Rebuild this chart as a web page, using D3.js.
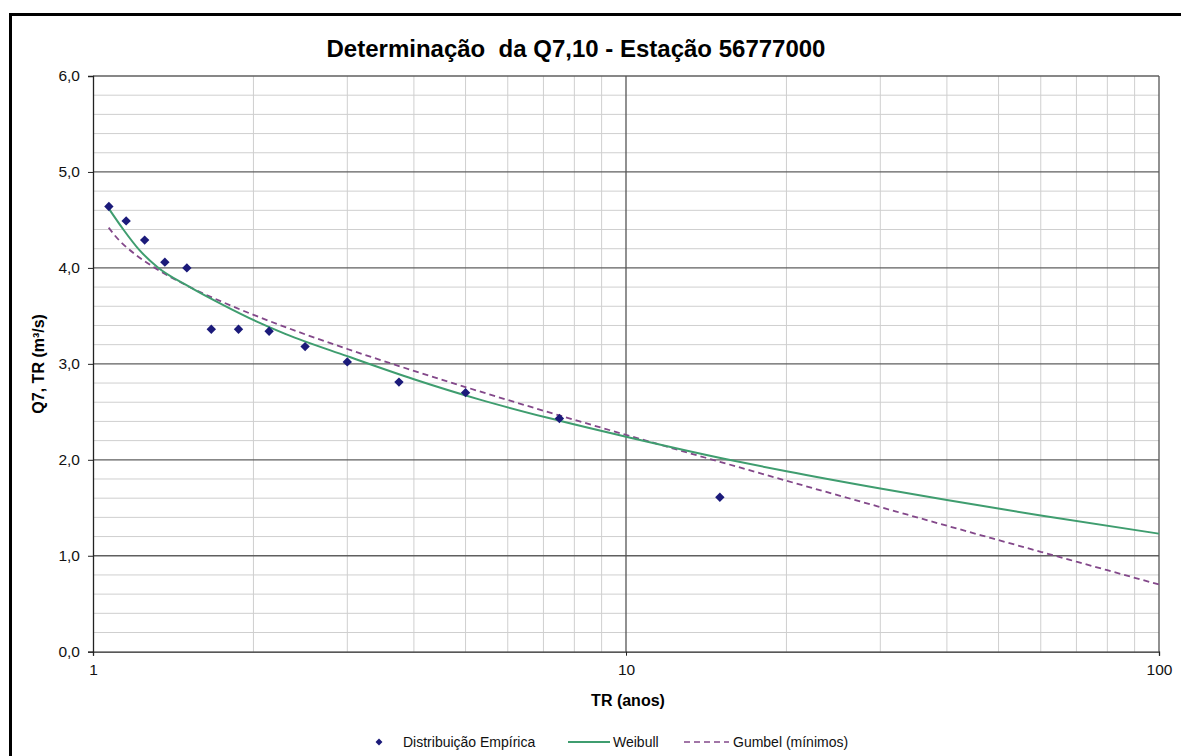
<!DOCTYPE html>
<html>
<head>
<meta charset="utf-8">
<script src="https://cdn.jsdelivr.net/npm/d3@7"></script>
<style>
  html, body { margin: 0; padding: 0; background: #fff; }
  svg { display: block; font-family: Arial, "Liberation Sans", sans-serif; }
</style>
</head>
<body>
<svg id="chart" width="1181" height="756"></svg>
<script>
// Empirical distribution: return period (years) and Q7 (m³/s)
const empiricalTR = [15, 7.5, 5, 3.75, 3, 2.5, 2.14, 1.875, 1.667, 1.5, 1.364, 1.25, 1.154, 1.071];
const empiricalQ  = [1.61, 2.43, 2.70, 2.81, 3.02, 3.18, 3.34, 3.36, 3.36, 4.00, 4.06, 4.29, 4.49, 4.64];

// Weibull fitted curve
const weibullTR = [1.07, 1.14, 1.22, 1.32, 1.52, 1.76, 2.03, 2.3, 3.0, 4.0, 5.3, 7.1, 10, 15.6, 20, 30, 40, 60, 100];
const weibullQ  = [4.62, 4.40, 4.19, 4.01, 3.80, 3.61, 3.44, 3.31, 3.08, 2.84, 2.63, 2.44, 2.24, 2.00, 1.88, 1.70, 1.58, 1.42, 1.23];

// Gumbel (minima) fitted curve
const gumbelTR = [1.07, 1.1, 1.2, 1.3, 1.5, 1.75, 2, 2.5, 3, 4, 5, 7, 10, 15, 20, 30, 40, 50, 60, 70, 80, 100];
const gumbelQ  = [4.42, 4.335, 4.141, 4.008, 3.816, 3.644, 3.511, 3.308, 3.155, 2.927, 2.758, 2.512, 2.260, 1.979, 1.782, 1.507, 1.313, 1.163, 1.041, 0.938, 0.849, 0.700];

// Axis ticks
const yTicks = [0, 1, 2, 3, 4, 5, 6];
const xTicks = [1, 10, 100];
const xMinor = [2, 3, 4, 5, 6, 7, 8, 9, 20, 30, 40, 50, 60, 70, 80, 90];

const chartTitle = "Determinação  da Q7,10 - Estação 56777000";
const xTitle = "TR (anos)";
const yTitle = "Q7, TR (m³/s)";
const legendLabels = ["Distribuição Empírica", "Weibull", "Gumbel (mínimos)"];

const svg = d3.select("#chart");

const plotLeft = 93, plotRight = 1159, plotTop = 76, plotBottom = 651.7;
const x = d3.scaleLog().domain([1, 100]).range([plotLeft, plotRight]);
const y = d3.scaleLinear().domain([0, 6]).range([plotBottom, plotTop]);

const GREEN = "#3f9d6f", PURPLE = "#83488a", NAVY = "#1b1a7a";

// Outer frame
svg.append("rect")
  .attr("x", 10.5).attr("y", 14.5)
  .attr("width", 1190).attr("height", 780)
  .attr("fill", "none").attr("stroke", "#000").attr("stroke-width", 3);

// Title
svg.append("text")
  .attr("x", 576).attr("y", 57)
  .attr("text-anchor", "middle")
  .attr("font-size", 24).attr("font-weight", "bold")
  .style("white-space", "pre")
  .text(chartTitle);

// Grid: minor horizontal lines every 0.2
const minorY = d3.range(1, 30).map(i => i * 0.2).filter(v => Math.abs(v - Math.round(v)) > 1e-6);
svg.append("g").selectAll("line").data(minorY).join("line")
  .attr("x1", plotLeft).attr("x2", plotRight)
  .attr("y1", d => y(d)).attr("y2", d => y(d))
  .attr("stroke", "#cfcfcf").attr("stroke-width", 1);

// Grid: minor vertical lines
svg.append("g").selectAll("line").data(xMinor).join("line")
  .attr("x1", d => x(d)).attr("x2", d => x(d))
  .attr("y1", plotTop).attr("y2", plotBottom)
  .attr("stroke", "#cfcfcf").attr("stroke-width", 1);

// Grid: major horizontal lines
svg.append("g").selectAll("line").data(yTicks.filter(d => d > 0)).join("line")
  .attr("x1", plotLeft).attr("x2", plotRight)
  .attr("y1", d => y(d)).attr("y2", d => y(d))
  .attr("stroke", "#5f5f5f").attr("stroke-width", 1.3);

// Grid: major vertical line at 10
svg.append("line")
  .attr("x1", x(10)).attr("x2", x(10))
  .attr("y1", plotTop).attr("y2", plotBottom)
  .attr("stroke", "#555").attr("stroke-width", 1.3);

// Right border of the plot area
svg.append("line")
  .attr("x1", plotRight).attr("x2", plotRight)
  .attr("y1", plotTop).attr("y2", plotBottom)
  .attr("stroke", "#555").attr("stroke-width", 1.3);

// Axes
const yAxis = svg.append("g")
  .attr("transform", `translate(${plotLeft},0)`)
  .call(d3.axisLeft(y).tickValues(yTicks).tickSize(5).tickPadding(8)
    .tickFormat(d => d.toFixed(1).replace(".", ",")));
const xAxis = svg.append("g")
  .attr("transform", `translate(0,${plotBottom})`)
  .call(d3.axisBottom(x).tickValues(xTicks).tickSize(4).tickPadding(8)
    .tickFormat(d3.format("d")));

[yAxis, xAxis].forEach(g => {
  g.select(".domain").attr("stroke", "#222").attr("stroke-width", 1.3);
  g.selectAll(".tick line").attr("stroke", "#222");
  g.selectAll(".tick text")
    .attr("font-size", 15.5)
    .attr("font-family", "Arial, 'Liberation Sans', sans-serif")
    .attr("fill", "#111");
});

// Axis titles
svg.append("text")
  .attr("x", 628).attr("y", 706)
  .attr("text-anchor", "middle")
  .attr("font-size", 16).attr("font-weight", "bold")
  .text(xTitle);

svg.append("text")
  .attr("transform", `translate(44,${(plotTop + plotBottom) / 2}) rotate(-90)`)
  .attr("text-anchor", "middle")
  .attr("font-size", 16).attr("font-weight", "bold")
  .text(yTitle);

// Curves
const line = d3.line()
  .x(d => x(d[0])).y(d => y(d[1]))
  .curve(d3.curveMonotoneX);

svg.append("path")
  .datum(d3.zip(gumbelTR, gumbelQ))
  .attr("d", line)
  .attr("fill", "none")
  .attr("stroke", PURPLE).attr("stroke-width", 1.8)
  .attr("stroke-dasharray", "6,4");

svg.append("path")
  .datum(d3.zip(weibullTR, weibullQ))
  .attr("d", line)
  .attr("fill", "none")
  .attr("stroke", GREEN).attr("stroke-width", 2);

// Empirical points (diamonds: squares turned 45°)
svg.append("g").selectAll("path").data(d3.zip(empiricalTR, empiricalQ)).join("path")
  .attr("d", d3.symbol().type(d3.symbolSquare).size(44))
  .attr("transform", d => `translate(${x(d[0])},${y(d[1])}) rotate(45)`)
  .attr("fill", NAVY);

// Legend
const lg = svg.append("g").attr("font-size", 14).attr("fill", "#111");
const ly = 742;
lg.append("path")
  .attr("d", d3.symbol().type(d3.symbolSquare).size(24))
  .attr("transform", `translate(379,${ly}) rotate(45)`)
  .attr("fill", NAVY);
lg.append("text").attr("x", 403).attr("y", ly + 5).text(legendLabels[0]);

lg.append("line")
  .attr("x1", 568).attr("x2", 610).attr("y1", ly).attr("y2", ly)
  .attr("stroke", GREEN).attr("stroke-width", 1.8);
lg.append("text").attr("x", 613).attr("y", ly + 5).text(legendLabels[1]);

lg.append("line")
  .attr("x1", 684).attr("x2", 729).attr("y1", ly).attr("y2", ly)
  .attr("stroke", PURPLE).attr("stroke-width", 1.6)
  .attr("stroke-dasharray", "6,4");
lg.append("text").attr("x", 733).attr("y", ly + 5).text(legendLabels[2]);
</script>
</body>
</html>
